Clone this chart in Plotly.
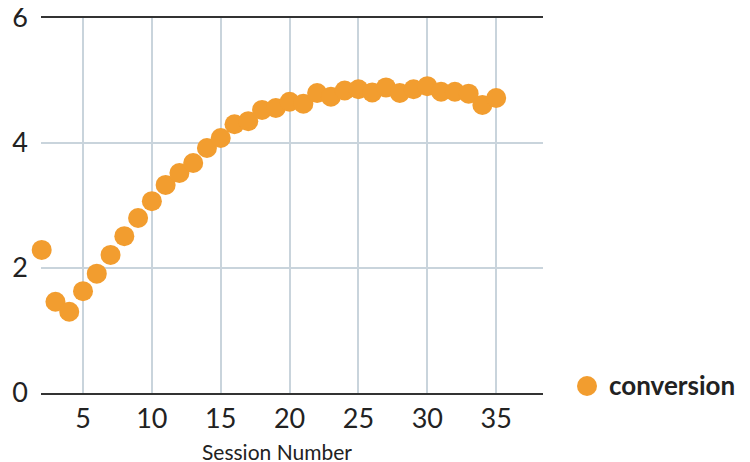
import plotly.graph_objects as go

session = list(range(2, 36))
conversion = [2.29, 1.46, 1.30, 1.63, 1.91, 2.21, 2.51, 2.80, 3.07, 3.33,
              3.52, 3.68, 3.92, 4.08, 4.30, 4.35, 4.53, 4.56, 4.66, 4.63,
              4.80, 4.74, 4.84, 4.86, 4.81, 4.89, 4.80, 4.86, 4.91, 4.82,
              4.82, 4.79, 4.61, 4.72]
x_ticks = [5, 10, 15, 20, 25, 30, 35]
y_ticks = [0, 2, 4, 6]
series_name = "conversion"
x_title = "Session Number"
color = "#F29D2F"

OFF = 8  # page body margin
W, H = 750 - OFF, 462 - OFF
# plot area in page pixels: left 41, right 543, top 18, bottom 393
L, T = 41 - OFF, 18 - OFF
R, B = 750 - 543, 462 - 393
pw, ph = W - L - R, H - T - B


def px(xp):
    return (xp - 41) / pw


def py(yp):
    return (393 - yp) / ph


fig = go.Figure(go.Scatter(
    x=session, y=conversion, mode="markers", name=series_name,
    marker=dict(color=color, size=20, line=dict(width=0)),
    cliponaxis=False, showlegend=False,
))

# legend replica (larger marker than plotly legend allows)
fig.add_shape(type="circle", xref="paper", yref="paper",
              xsizemode="pixel", ysizemode="pixel",
              xanchor=px(587), yanchor=py(386),
              x0=-10, x1=10, y0=-10, y1=10,
              fillcolor=color, line=dict(width=0))
fig.add_annotation(xref="paper", yref="paper", x=px(607), y=py(385),
                   xanchor="left", yanchor="middle", showarrow=False,
                   text="<b>" + series_name + "</b>",
                   font=dict(size=26, color="#222"))
fig.add_annotation(xref="paper", yref="paper", x=px(276.5), y=py(451),
                   xanchor="center", yanchor="middle", showarrow=False,
                   text=x_title, font=dict(size=21, color="#222"))

fig.update_layout(
    width=W, height=H,
    margin=dict(l=L, r=R, t=T, b=B),
    paper_bgcolor="white", plot_bgcolor="white",
    font=dict(family="Lato, sans-serif", color="#222"),
    showlegend=False,
    xaxis=dict(
        range=[1.95, 38.4], tickvals=x_ticks, showgrid=True,
        gridcolor="#C9D4DC", gridwidth=2, zeroline=False,
        showline=True, mirror=True, linecolor="#333", linewidth=2,
        ticks="", automargin=False, ticklabelstandoff=1,
        tickfont=dict(size=27, color="#222"),
    ),
    yaxis=dict(
        range=[0, 6], tickvals=y_ticks, showgrid=True,
        gridcolor="#C9D4DC", gridwidth=2, zeroline=False,
        showline=False, ticks="", ticklabelstandoff=12, automargin=False,
        ticklabeloverflow="allow",
        tickfont=dict(size=27, color="#222"),
    ),
)

fig.write_html("out.html")
